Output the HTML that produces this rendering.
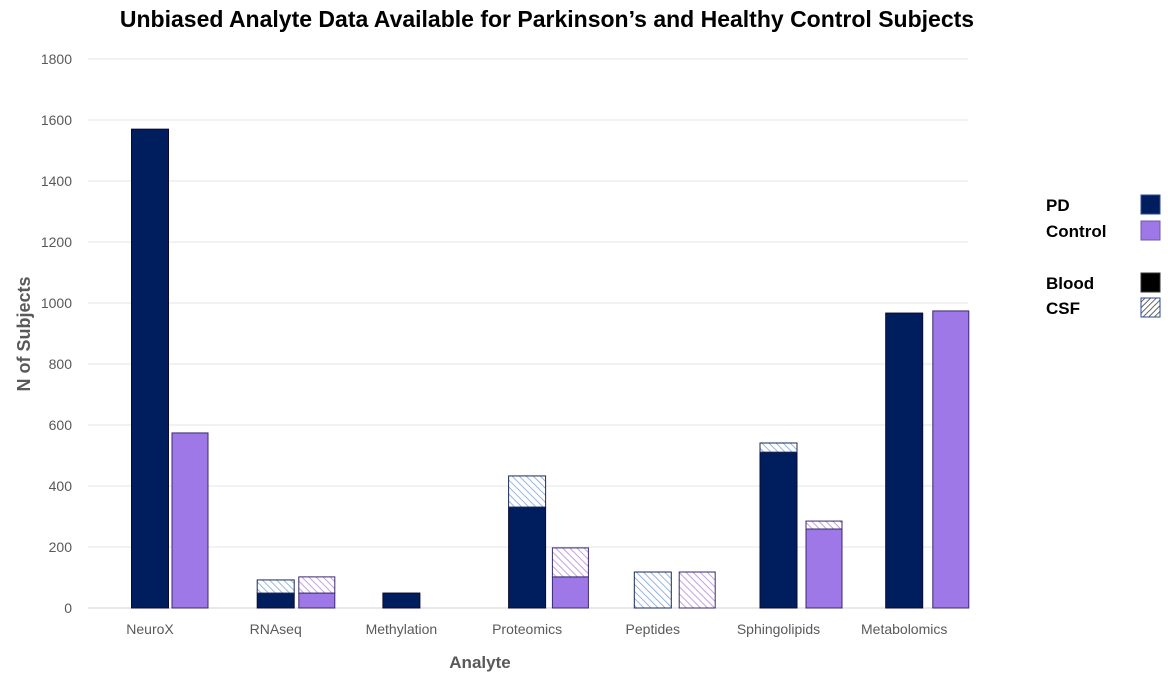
<!DOCTYPE html>
<html><head><meta charset="utf-8"><style>
body{margin:0;background:#fff;font-family:"Liberation Sans",sans-serif}
</style></head><body>
<svg id="chart" width="1168" height="678" xmlns="http://www.w3.org/2000/svg">
<defs>
<pattern id="hb" width="5" height="5" patternUnits="userSpaceOnUse" patternTransform="rotate(-45)"><rect width="5" height="5" fill="#fff"/><line x1="0" y1="0" x2="0" y2="5" stroke="#7fa3d6" stroke-width="1.6"/></pattern>
<pattern id="hp" width="5" height="5" patternUnits="userSpaceOnUse" patternTransform="rotate(-45)"><rect width="5" height="5" fill="#fff"/><line x1="0" y1="0" x2="0" y2="5" stroke="#b48ad6" stroke-width="1.6"/></pattern>
<pattern id="hk" width="4" height="4" patternUnits="userSpaceOnUse" patternTransform="rotate(45)"><rect width="4" height="4" fill="#fff"/><line x1="0" y1="0" x2="0" y2="4" stroke="#333" stroke-width="1.5"/></pattern>
</defs>
<text x="547" y="27" text-anchor="middle" font-size="23" font-weight="bold" fill="#000">Unbiased Analyte Data Available for Parkinson’s and Healthy Control Subjects</text>
<g id="grid"></g><g id="bars"></g><g id="labels"></g>
<text x="480" y="668" text-anchor="middle" font-size="17" font-weight="bold" fill="#595959">Analyte</text>
<text transform="translate(30,334) rotate(-90)" text-anchor="middle" font-size="18" font-weight="bold" fill="#595959">N of Subjects</text>
<g font-size="17" font-weight="bold" fill="#000">
<text x="1046" y="211">PD</text>
<rect x="1141" y="195" width="19" height="19" fill="#001e5e" stroke="#2a4a9a"/>
<text x="1046" y="237">Control</text>
<rect x="1141" y="221" width="19" height="19" fill="#9d78e6" stroke="#6c5ab0"/>
<text x="1046" y="289">Blood</text>
<rect x="1141" y="273" width="19" height="19" fill="#000" stroke="#333"/>
<text x="1046" y="314">CSF</text>
<rect x="1141" y="298" width="19" height="19" fill="url(#hk)" stroke="#2a4a9a"/>
</g>
</svg>
<script>
const categories=["NeuroX","RNAseq","Methylation","Proteomics","Peptides","Sphingolipids","Metabolomics"];
const pdBlood=[1570,49,49,331,0,511,967];
const pdCSF=[0,43,0,102,118,30,0];
const ctrlBlood=[574,49,0,102,0,259,974];
const ctrlCSF=[0,53,0,95,118,26,0];
const yTicks=[0,200,400,600,800,1000,1200,1400,1600,1800];
const NS="http://www.w3.org/2000/svg";
const y=v=>608-v*(549/1800);
const xc=i=>150+i*125.7;
const xc2=i=>190+i*126.8;
function mk(t,a,p){const e=document.createElementNS(NS,t);for(const k in a)e.setAttribute(k,a[k]);p.appendChild(e);return e;}
const g=document.getElementById('grid'),b=document.getElementById('bars'),l=document.getElementById('labels');
yTicks.forEach(v=>{
 const ln=mk('line',{x1:88,x2:968,y1:y(v),y2:y(v),stroke:v===0?'#d0d0d0':'#e4e4e4','stroke-width':1},g);
 
 
 const t=mk('text',{x:72,y:y(v)+5,'text-anchor':'end','font-size':14,fill:'#595959'},l);
 t.textContent=v;
 
 
});
function seg(x,w,v0,v1,fill,stroke,name){
 if(v1<=v0)return;
 const r=mk('rect',{x:x,y:y(v1),width:w,height:y(v0)-y(v1),fill:fill,stroke:stroke,'stroke-width':1},b);
 
 
}
categories.forEach((c,i)=>{
 const cx=xc(i), cx2=xc2(i);
 seg(cx-18.5,37,0,pdBlood[i],'#001e5e','#0a0a30','bar-pd-blood-'+c.toLowerCase());
 seg(cx-18.5,37,pdBlood[i],pdBlood[i]+pdCSF[i],'url(#hb)','#1a2a5a','bar-pd-csf-'+c.toLowerCase());
 seg(cx2-18,36,0,ctrlBlood[i],'#9d78e6','#3a2a70','bar-control-blood-'+c.toLowerCase());
 seg(cx2-18,36,ctrlBlood[i],ctrlBlood[i]+ctrlCSF[i],'url(#hp)','#3a2a70','bar-control-csf-'+c.toLowerCase());
 const t=mk('text',{x:cx,y:634,'text-anchor':'middle','font-size':14,fill:'#595959'},l);
 t.textContent=c;
 
 
});
</script>
</body></html>
